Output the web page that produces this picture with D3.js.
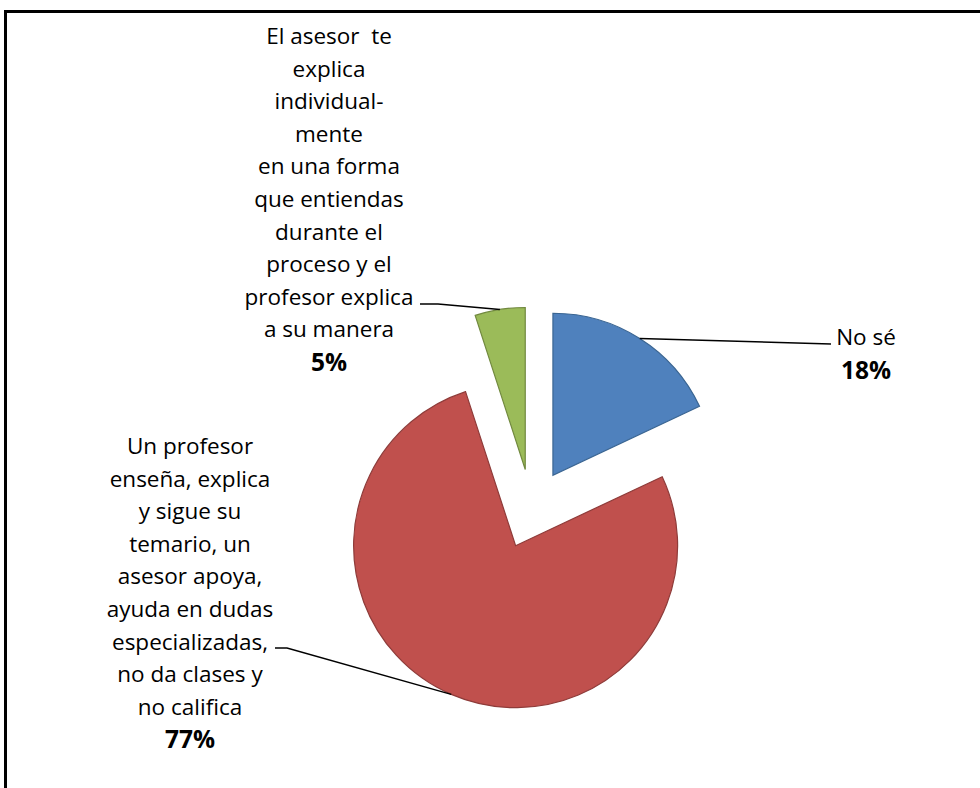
<!DOCTYPE html>
<html>
<head>
<meta charset="utf-8">
<script src="https://cdn.jsdelivr.net/npm/d3@7"></script>
<style>
  body { margin: 0; background: #fff; }
  text { font-family: "Open Sans", "Noto Sans", sans-serif; fill: #000; }
</style>
</head>
<body>
<div id="chart"></div>
<script>
// data
var categories = ["No sé",
                  "Un profesor enseña...",
                  "El asesor te explica..."];
var values = [18, 77, 5];
var labelLines = [
    ["No sé"],
    ["Un profesor", "enseña, explica", "y sigue su", "temario, un", "asesor apoya,",
     "ayuda en dudas", "especializadas,", "no da clases y", "no califica"],
    ["El asesor  te", "explica", "individual-", "mente", "en una forma", "que entiendas",
     "durante el", "proceso y el", "profesor explica", "a su manera"]
];
var fills = ["#4F81BD", "#C0504D", "#9BBB59"];
var strokes = ["#3A6592", "#8E3B39", "#71893F"];

var width = 980, height = 788;
var cx = 531.5, cy = 509, radius = 162, explode = 40;
var lineH = 32.6;

// label anchor (center x, first line baseline) and leader elbow for each slice
var labelPos = [
    {x: 866, y: 345, elbow: [[831, 344]]},
    {x: 190, y: 454, elbow: [[287, 648], [275, 648]]},
    {x: 329, y: 44,  elbow: [[438, 304], [420, 304]]}
];

var svg = d3.select("#chart")
    .append("svg")
    .attr("width", width)
    .attr("height", height);

// frame (top and left edges only visible)
svg.append("line").attr("x1", 5.5).attr("x2", width).attr("y1", 11.5).attr("y2", 11.5)
    .attr("stroke", "#000").attr("stroke-width", 3);
svg.append("line").attr("x1", 5.5).attr("x2", 5.5).attr("y1", 10).attr("y2", height)
    .attr("stroke", "#000").attr("stroke-width", 3);

var pie = d3.pie().sort(null).value(d => d);
var arcs = pie(values);
var arc = d3.arc().innerRadius(0).outerRadius(radius);

function offset(d, r){
    var a = (d.startAngle + d.endAngle) / 2;
    return [Math.sin(a) * r, -Math.cos(a) * r];
}

var g = svg.append("g").attr("transform", "translate(" + cx + "," + cy + ")");

g.selectAll("path.slice")
    .data(arcs)
    .enter()
    .append("path")
    .attr("class", "slice")
    .attr("d", arc)
    .attr("transform", d => {
        var o = offset(d, explode);
        return "translate(" + o[0] + "," + o[1] + ")";
    })
    .style("fill", (d, i) => fills[i])
    .style("stroke", (d, i) => strokes[i])
    .style("stroke-width", 1.2);

// leader lines
arcs.forEach((d, i) => {
    var o = offset(d, explode), p = offset(d, radius);
    var pts = [[cx + o[0] + p[0], cy + o[1] + p[1]]].concat(labelPos[i].elbow);
    svg.append("path")
        .attr("d", d3.line()(pts))
        .attr("fill", "none")
        .attr("stroke", "#000")
        .attr("stroke-width", 1.5);
});

// labels
arcs.forEach((d, i) => {
    var t = svg.append("text")
        .attr("text-anchor", "middle")
        .attr("font-size", 22.5);
    var lines = labelLines[i];
    lines.forEach((s, k) => {
        t.append("tspan")
            .attr("x", labelPos[i].x)
            .attr("y", labelPos[i].y + k * lineH)
            .style("white-space", "pre")
            .text(s);
    });
    t.append("tspan")
        .attr("x", labelPos[i].x)
        .attr("y", labelPos[i].y + lines.length * lineH + 1)
        .attr("font-weight", "bold")
        .attr("font-size", 24.5)
        .text(d3.format(".0%")(d.data / 100));
});
</script>
</body>
</html>
